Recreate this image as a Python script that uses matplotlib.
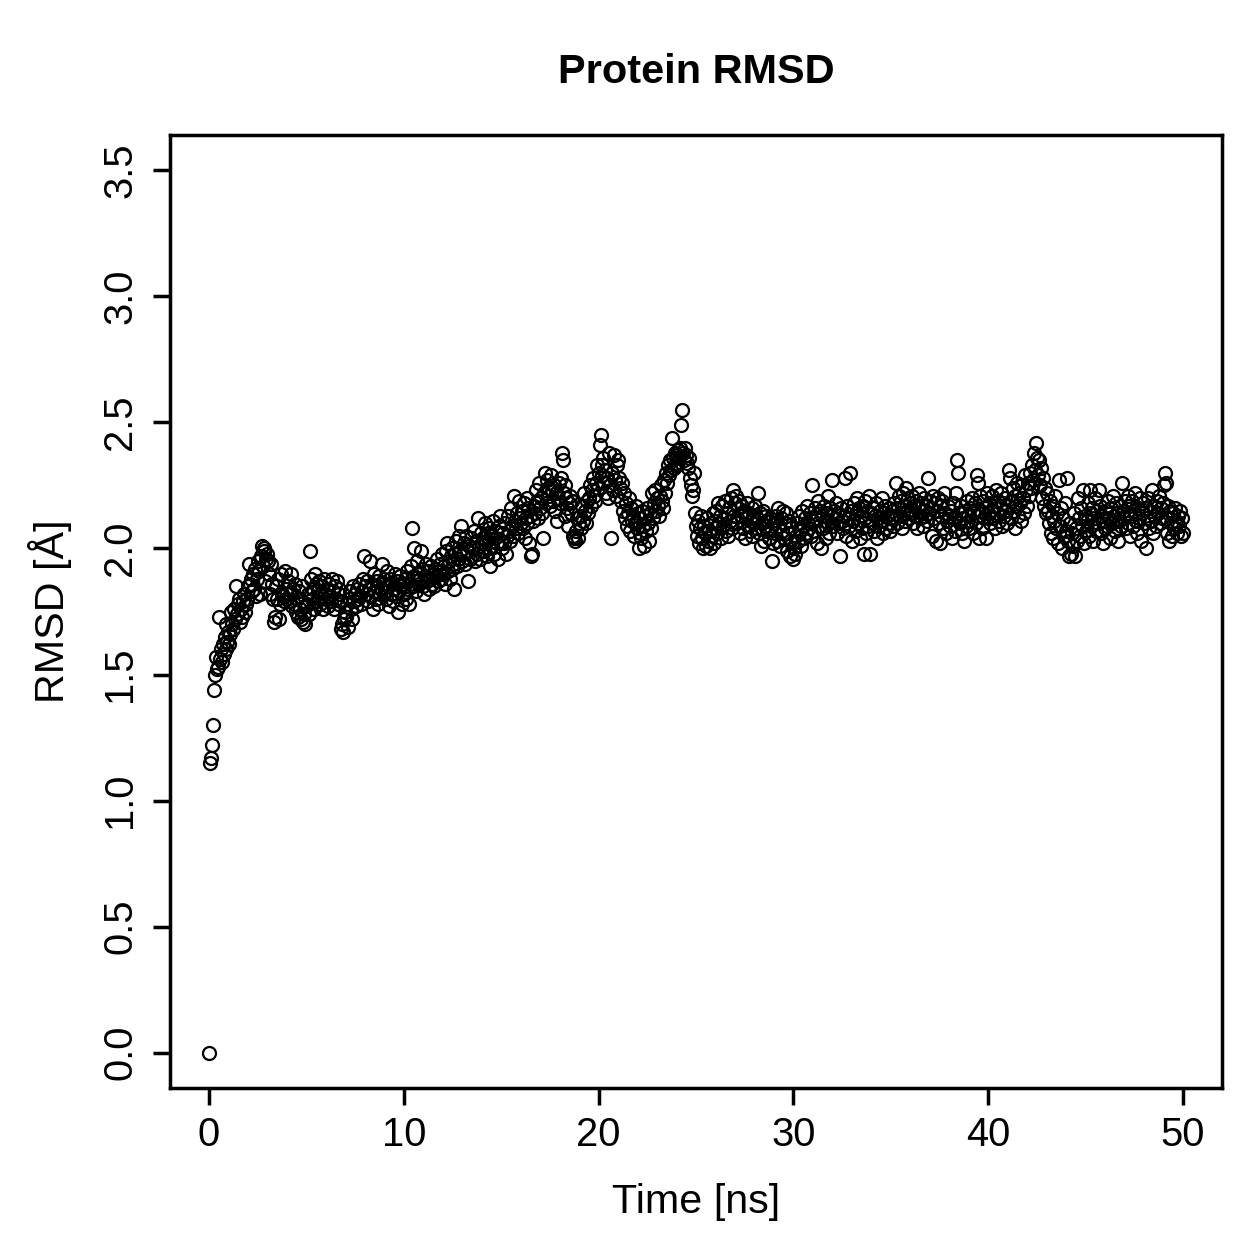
import numpy as np
import matplotlib
matplotlib.use("Agg")
import matplotlib.pyplot as plt

# RMSD trace, one frame every 0.05 ns
dt = 0.05
rmsd = [
    0.00,
    # 0-1 ns
    1.15, 1.17, 1.22, 1.30, 1.44, 1.50, 1.57, 1.52, 1.53, 1.73, 1.56, 1.60, 1.55, 1.62, 1.58, 1.65, 1.70, 1.60, 1.63, 1.67,
    1.62, 1.66, 1.75, 1.70, 1.68, 1.76, 1.72, 1.85, 1.74, 1.78, 1.80, 1.71, 1.76, 1.73, 1.79, 1.82, 1.75, 1.78, 1.80, 1.85,
    1.94, 1.86, 1.88, 1.83, 1.90, 1.84, 1.92, 1.81, 1.88, 1.95, 1.91, 1.82, 1.97, 2.01, 1.93, 1.99, 2.00, 1.87, 1.96, 1.98,
    1.95, 1.90, 1.82, 1.94, 1.86, 1.80, 1.71, 1.73, 1.85, 1.80, 1.88, 1.72, 1.78, 1.90, 1.82, 1.81, 1.79, 1.91, 1.84, 1.80,
    1.87, 1.79, 1.82, 1.90, 1.77, 1.84, 1.78, 1.86, 1.75, 1.80, 1.73, 1.83, 1.76, 1.72, 1.79, 1.85, 1.71, 1.74, 1.70, 1.77,
    # 5-10 ns
    1.78, 1.82, 1.74, 1.99, 1.88, 1.80, 1.84, 1.76, 1.90, 1.86, 1.79, 1.83, 1.87, 1.78, 1.81, 1.85, 1.76, 1.88, 1.82, 1.80,
    1.84, 1.77, 1.86, 1.81, 1.79, 1.88, 1.83, 1.76, 1.85, 1.80, 1.87, 1.78, 1.82, 1.84, 1.79, 1.68, 1.70, 1.67, 1.72, 1.75,
    1.73, 1.78, 1.69, 1.80, 1.83, 1.76, 1.72, 1.85, 1.79, 1.82, 1.77, 1.84, 1.80, 1.86, 1.81, 1.78, 1.83, 1.88, 1.97, 1.85,
    1.82, 1.87, 1.79, 1.84, 1.95, 1.81, 1.86, 1.76, 1.90, 1.83, 1.80, 1.87, 1.85, 1.78, 1.89, 1.82, 1.84, 1.94, 1.86, 1.88,
    1.83, 1.80, 1.91, 1.85, 1.77, 1.88, 1.82, 1.86, 1.79, 1.84, 1.90, 1.81, 1.87, 1.75, 1.83, 1.89, 1.85, 1.78, 1.86, 1.82,
    # 10-15 ns
    1.88, 1.80, 1.91, 1.84, 1.78, 1.86, 1.93, 2.08, 1.85, 1.89, 2.00, 1.87, 1.83, 1.95, 1.90, 1.86, 1.88, 1.99, 1.92, 1.85,
    1.82, 1.89, 1.94, 1.87, 1.91, 1.84, 1.88, 1.93, 1.86, 1.90, 1.85, 1.92, 1.89, 1.96, 1.87, 1.91, 1.94, 1.88, 1.98, 1.90,
    1.93, 1.86, 1.99, 2.02, 1.91, 1.95, 1.88, 1.97, 1.92, 2.00, 1.94, 1.84, 1.98, 2.03, 1.93, 1.96, 2.05, 1.99, 2.09, 1.95,
    1.98, 2.02, 1.94, 2.05, 1.99, 1.87, 2.01, 1.96, 2.04, 1.97, 2.00, 2.07, 1.95, 2.03, 1.98, 2.12, 2.01, 1.96, 2.06, 2.02,
    2.04, 1.99, 2.10, 2.03, 1.97, 2.06, 2.00, 2.08, 1.93, 2.05, 2.01, 2.11, 1.98, 2.04, 2.07, 2.02, 1.96, 2.09, 2.13, 2.03,
    # 15-20 ns
    2.00, 2.06, 2.02, 2.10, 1.98, 2.05, 2.13, 2.07, 2.03, 2.16, 2.09, 2.05, 2.21, 2.11, 2.08, 2.14, 2.06, 2.19, 2.12, 2.10,
    2.15, 2.08, 2.18, 2.04, 2.12, 2.20, 2.10, 2.16, 2.02, 2.13, 1.97, 1.98, 2.11, 2.17, 2.14, 2.23, 2.19, 2.12, 2.26, 2.16,
    2.20, 2.14, 2.04, 2.22, 2.30, 2.18, 2.27, 2.24, 2.21, 2.17, 2.29, 2.23, 2.19, 2.25, 2.15, 2.22, 2.11, 2.20, 2.26, 2.18,
    2.28, 2.38, 2.35, 2.22, 2.25, 2.13, 2.20, 2.16, 2.09, 2.18, 2.21, 2.14, 2.19, 2.05, 2.04, 2.03, 2.07, 2.12, 2.04, 2.10,
    2.13, 2.08, 2.17, 2.11, 2.22, 2.15, 2.10, 2.19, 2.14, 2.20, 2.25, 2.17, 2.23, 2.28, 2.21, 2.19, 2.26, 2.33, 2.24, 2.30,
    # 20-25 ns
    2.41, 2.45, 2.33, 2.29, 2.36, 2.26, 2.31, 2.22, 2.28, 2.20, 2.38, 2.25, 2.04, 2.30, 2.23, 2.37, 2.27, 2.21, 2.33, 2.35,
    2.28, 2.24, 2.19, 2.26, 2.15, 2.22, 2.12, 2.18, 2.09, 2.14, 2.20, 2.07, 2.16, 2.11, 2.13, 2.05, 2.10, 2.17, 2.08, 2.14,
    2.00, 2.06, 2.12, 2.04, 2.15, 2.09, 2.01, 2.13, 2.07, 2.16, 2.10, 2.03, 2.14, 2.08, 2.22, 2.12, 2.18, 2.23, 2.15, 2.20,
    2.17, 2.13, 2.21, 2.25, 2.19, 2.16, 2.27, 2.22, 2.30, 2.26, 2.33, 2.29, 2.35, 2.31, 2.44, 2.36, 2.32, 2.38, 2.34, 2.37,
    2.33, 2.39, 2.36, 2.40, 2.49, 2.55, 2.38, 2.35, 2.40, 2.37, 2.34, 2.32, 2.36, 2.28, 2.25, 2.21, 2.23, 2.30, 2.14, 2.09,
    # 25-30 ns
    2.05, 2.11, 2.02, 2.08, 2.13, 2.04, 2.00, 2.09, 2.06, 2.01, 2.12, 2.03, 2.07, 2.00, 2.10, 2.05, 2.14, 2.02, 2.08, 2.11,
    2.15, 2.06, 2.18, 2.10, 2.13, 2.04, 2.17, 2.09, 2.12, 2.19, 2.07, 2.14, 2.05, 2.16, 2.11, 2.20, 2.08, 2.23, 2.13, 2.18,
    2.21, 2.10, 2.16, 2.19, 2.06, 2.13, 2.17, 2.08, 2.15, 2.04, 2.12, 2.18, 2.09, 2.14, 2.07, 2.11, 2.16, 2.05, 2.13, 2.10,
    2.17, 2.08, 2.12, 2.22, 2.06, 2.14, 2.01, 2.10, 2.15, 2.03, 2.09, 2.13, 2.07, 2.11, 2.04, 2.12, 2.08, 1.95, 2.02, 2.10,
    2.06, 2.13, 2.03, 2.16, 2.09, 2.01, 2.12, 2.07, 2.15, 2.04, 2.10, 2.14, 1.99, 2.06, 2.11, 2.03, 1.97, 2.08, 2.02, 1.96,
    # 30-35 ns
    2.00, 1.98, 2.05, 2.10, 2.03, 2.13, 2.07, 2.01, 2.15, 2.09, 2.04, 2.12, 2.06, 2.17, 2.10, 2.08, 2.14, 2.05, 2.25, 2.11,
    2.07, 2.16, 2.12, 2.02, 2.19, 2.09, 2.15, 2.00, 2.13, 2.08, 2.17, 2.11, 2.04, 2.14, 2.21, 2.10, 2.06, 2.16, 2.13, 2.27,
    2.09, 2.15, 2.12, 2.18, 2.06, 2.14, 2.10, 1.97, 2.16, 2.11, 2.08, 2.13, 2.28, 2.05, 2.17, 2.12, 2.09, 2.30, 2.15, 2.03,
    2.11, 2.18, 2.07, 2.14, 2.20, 2.10, 2.16, 2.04, 2.13, 2.08, 2.17, 1.98, 2.12, 2.19, 2.06, 2.15, 2.09, 2.21, 1.98, 2.14,
    2.10, 2.16, 2.07, 2.13, 2.18, 2.04, 2.12, 2.09, 2.15, 2.11, 2.20, 2.06, 2.14, 2.17, 2.08, 2.13, 2.10, 2.16, 2.07, 2.12,
    # 35-40 ns
    2.15, 2.09, 2.18, 2.12, 2.26, 2.10, 2.16, 2.21, 2.13, 2.19, 2.08, 2.22, 2.14, 2.17, 2.11, 2.24, 2.15, 2.20, 2.12, 2.18,
    2.14, 2.21, 2.10, 2.17, 2.13, 2.19, 2.08, 2.16, 2.22, 2.12, 2.18, 2.15, 2.09, 2.20, 2.13, 2.17, 2.11, 2.28, 2.14, 2.19,
    2.16, 2.05, 2.21, 2.12, 2.18, 2.03, 2.15, 2.20, 2.10, 2.17, 2.02, 2.13, 2.19, 2.08, 2.22, 2.14, 2.06, 2.11, 2.17, 2.13,
    2.09, 2.15, 2.04, 2.18, 2.12, 2.07, 2.22, 2.35, 2.30, 2.14, 2.10, 2.17, 2.06, 2.12, 2.03, 2.15, 2.09, 2.19, 2.13, 2.08,
    2.16, 2.11, 2.20, 2.06, 2.14, 2.18, 2.10, 2.29, 2.26, 2.13, 2.04, 2.21, 2.15, 2.08, 2.19, 2.12, 2.16, 2.04, 2.22, 2.14,
    # 40-45 ns
    2.18, 2.10, 2.15, 2.21, 2.12, 2.17, 2.08, 2.23, 2.14, 2.19, 2.11, 2.16, 2.22, 2.09, 2.18, 2.13, 2.20, 2.15, 2.10, 2.17,
    2.31, 2.28, 2.12, 2.19, 2.24, 2.15, 2.08, 2.21, 2.17, 2.26, 2.13, 2.22, 2.18, 2.11, 2.25, 2.20, 2.14, 2.29, 2.23, 2.17,
    2.26, 2.21, 2.30, 2.24, 2.33, 2.27, 2.38, 2.31, 2.42, 2.36, 2.29, 2.35, 2.25, 2.32, 2.20, 2.28, 2.17, 2.24, 2.14, 2.22,
    2.15, 2.10, 2.19, 2.06, 2.13, 2.17, 2.04, 2.11, 2.21, 2.08, 2.14, 2.02, 2.27, 2.09, 2.16, 2.00, 2.12, 2.05, 2.18, 2.07,
    2.28, 2.03, 1.97, 2.10, 1.98, 2.06, 2.01, 2.14, 1.97, 2.08, 2.03, 2.20, 2.12, 2.05, 2.16, 2.09, 2.23, 2.02, 2.13, 2.07,
    # 45-50 ns
    2.11, 2.18, 2.05, 2.23, 2.14, 2.09, 2.16, 2.03, 2.12, 2.20, 2.07, 2.15, 2.10, 2.23, 2.17, 2.06, 2.13, 2.02, 2.11, 2.08,
    2.15, 2.09, 2.19, 2.12, 2.04, 2.16, 2.10, 2.21, 2.13, 2.07, 2.18, 2.14, 2.03, 2.11, 2.17, 2.09, 2.26, 2.15, 2.12, 2.19,
    2.08, 2.14, 2.21, 2.10, 2.17, 2.05, 2.13, 2.19, 2.09, 2.15, 2.22, 2.11, 2.06, 2.16, 2.12, 2.20, 2.03, 2.14, 2.18, 2.10,
    2.16, 2.00, 2.12, 2.20, 2.08, 2.15, 2.11, 2.23, 2.06, 2.17, 2.13, 2.09, 2.19, 2.14, 2.21, 2.10, 2.16, 2.12, 2.18, 2.25,
    2.30, 2.26, 2.12, 2.06, 2.17, 2.03, 2.15, 2.10, 2.05, 2.14, 2.08, 2.16, 2.11, 2.06, 2.13, 2.09, 2.15, 2.05, 2.12, 2.06,
]
time_ns = np.arange(len(rmsd)) * dt

x_ticks = [0, 10, 20, 30, 40, 50]
y_ticks = [0.0, 0.5, 1.0, 1.5, 2.0, 2.5, 3.0, 3.5]

plt.rcParams['font.family'] = ['Liberation Sans', 'DejaVu Sans']

W = 1259
L, R, T, B = 170, 1222, 135, 1088   # plot box in pixels
fig = plt.figure(figsize=(W / 180, W / 180), dpi=180)
ax = fig.add_axes([L / W, 1 - B / W, (R - L) / W, (B - T) / W])

ax.plot(time_ns, rmsd, 'o', mfc='none', mec='black', ms=5.2, mew=0.9)

# R style: 4% padding around the data range
ax.set_xlim(-2, 52)
ax.set_ylim(-0.14, 3.64)
ax.set_xticks(x_ticks)
ax.set_xticklabels([str(v) for v in x_ticks])
ax.set_yticks(y_ticks)
ax.set_yticklabels(['%.1f' % v for v in y_ticks])

for s in ax.spines.values():
    s.set_linewidth(1.4)
ax.tick_params(axis='both', length=6.8, width=1.4, labelsize=16)
ax.tick_params(axis='x', pad=4.5)
ax.tick_params(axis='y', labelrotation=90, pad=5.5)
for lab in ax.get_yticklabels():
    lab.set_va('center')

ax.set_xlabel('Time [ns]', fontsize=16.5)
ax.set_ylabel('RMSD [Å]', fontsize=16.5)
ax.xaxis.set_label_coords(0.5, -(1183 - B) / (B - T))
ax.yaxis.set_label_coords(-(L - 72) / (R - L), 0.5)
fig.text((L + R) / 2 / W, 1 - 83 / W, 'Protein RMSD', ha='center', va='baseline',
         fontsize=16.6, fontweight='bold')

fig.savefig('out.png', dpi=180)
